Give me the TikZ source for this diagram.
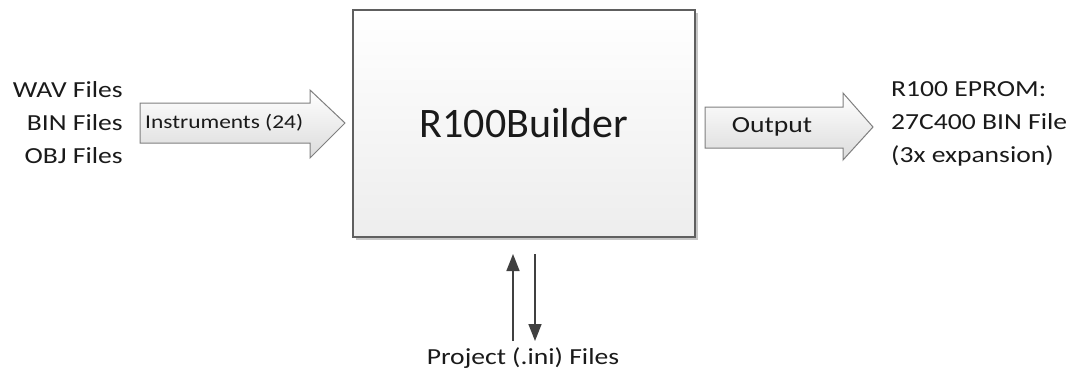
\documentclass[tikz,border=0pt]{standalone}
\usepackage{fontspec}
\setmainfont{Carlito}
\newfontfamily\lblfont[FakeStretch=1.2]{Carlito}
\newfontfamily\titlefont{Carlito}
\usetikzlibrary{arrows.meta}
\definecolor{txt}{HTML}{1A1A1A}
\definecolor{edge}{HTML}{7F7F7F}
\definecolor{boxedge}{HTML}{5F5F5F}
\definecolor{darr}{HTML}{404040}
\tikzset{
  lbl/.style={font=\lblfont\fontsize{23}{33}\selectfont, text=txt, inner sep=0pt},
  blockarrow/.style={draw=edge, line width=1pt, top color=white, bottom color=gray!28, line join=miter},
  mainbox/.style={draw=boxedge, line width=1.5pt, top color=white, bottom color=gray!14,
    minimum width=342pt, minimum height=227pt, inner sep=0pt},
  flow/.style={draw=darr, line width=1.6pt, -{Triangle[length=17pt,width=13pt]}}
}
\begin{document}
\begin{tikzpicture}[x=1pt,y=-1pt]
\useasboundingbox (0,0) rectangle (1076,375);
% main box
\fill[gray!45] (356,13) rectangle (698,240);
\node[mainbox] (builder) at (524,123.5) {};
\node[font=\titlefont\fontsize{42}{50}\selectfont, text=txt, inner sep=0pt] (title) at (524,123) {R100Builder};
% input labels
\node[lbl, anchor=east, align=right] (inputs) at (123,123) {WAV Files\\BIN Files\\OBJ Files};
% left block arrow
\shadedraw[blockarrow] (140,103) -- (310,103) -- (310,90) -- (345,123) -- (310,158) -- (310,143) -- (140,143) -- cycle;
\node[lbl, font=\lblfont\fontsize{19.5}{24}\selectfont, anchor=west] (instr) at (145,123) {Instruments (24)};
% right block arrow
\shadedraw[blockarrow] (705,107) -- (843,107) -- (843,93) -- (873,127) -- (843,160) -- (843,148) -- (705,148) -- cycle;
\node[lbl] (outlbl) at (772,127) {Output};
% output labels
\node[lbl, anchor=west, align=left] (outputs) at (891,123.5) {R100 EPROM:\\27C400 BIN File\\(3x expansion)};
% project files
\node[lbl] (proj) at (523,358) {Project (.ini) Files};
\coordinate (upbot) at (513,341);
\coordinate (uptop) at (513,254);
\coordinate (dntop) at (535,254);
\coordinate (dnbot) at (535,341);
\draw[flow] (upbot) -- (uptop);
\draw[flow] (dntop) -- (dnbot);
\end{tikzpicture}
\end{document}
